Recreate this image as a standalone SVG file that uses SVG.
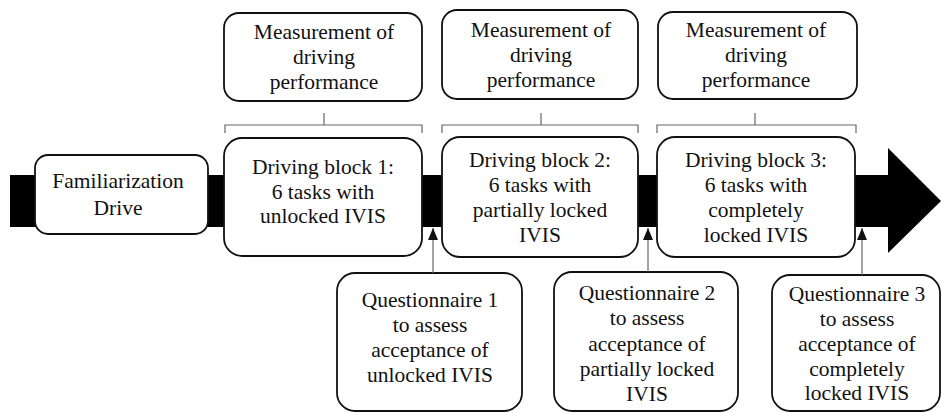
<svg xmlns="http://www.w3.org/2000/svg" width="942" height="413" viewBox="0 0 942 413" font-family="Liberation Serif, Times New Roman, serif">
  <defs>
    <marker id="tri" viewBox="0 0 12 10" refX="12" refY="5" markerWidth="12" markerHeight="10" markerUnits="userSpaceOnUse" orient="auto">
      <path d="M0,0 L12,5 L0,10 Z" fill="#111"/>
    </marker>
  </defs>
  <style>
    .box { fill: #fff; stroke: #111; stroke-width: 1.8; }
    text { font-family: "Liberation Serif", "Times New Roman", Times, serif; font-size: 21.5px; fill: #111; text-anchor: middle; }
    .br { fill: none; stroke: #666; stroke-width: 1.2; }
    .con { fill: none; stroke: #666; stroke-width: 1.2; }
  </style>

  <rect width="942" height="413" fill="#fff"/>

  <!-- timeline arrow -->
  <g id="timeline">
    <rect x="10" y="175" width="880" height="52" fill="#000"/>
    <polygon points="888,148 941,201 888,253" fill="#000"/>
  </g>

  <!-- brackets linking measurements to driving blocks -->
  <g id="brackets">
    <path class="br" d="M225,133 V125 H422 V133 M324,125 V113"/>
    <path class="br" d="M442,133 V125 H638 V133 M541,125 V113"/>
    <path class="br" d="M657,133 V125 H856 V133 M755,125 V113"/>
  </g>

  <g id="familiarization">
    <rect class="box" x="35" y="155" width="173" height="79" rx="13"/>
    <text x="118" y="188">Familiarization</text>
    <text x="118" y="215">Drive</text>
  </g>

  <g id="block1">
    <rect class="box" x="224" y="138" width="198" height="118" rx="18"/>
    <text x="323" y="174">Driving block 1:</text>
    <text x="323" y="198.5">6 tasks with</text>
    <text x="323" y="223">unlocked IVIS</text>
  </g>

  <g id="block2">
    <rect class="box" x="442" y="137" width="196" height="120" rx="18"/>
    <text x="540" y="167">Driving block 2:</text>
    <text x="540" y="192">6 tasks with</text>
    <text x="540" y="217">partially locked</text>
    <text x="540" y="242">IVIS</text>
  </g>

  <g id="block3">
    <rect class="box" x="657" y="137" width="198" height="120" rx="18"/>
    <text x="756" y="167">Driving block 3:</text>
    <text x="756" y="192">6 tasks with</text>
    <text x="756" y="217">completely</text>
    <text x="756" y="242">locked IVIS</text>
  </g>

  <g id="measure1">
    <rect class="box" x="224" y="13" width="198" height="88" rx="15"/>
    <text x="324" y="39">Measurement of</text>
    <text x="324" y="64">driving</text>
    <text x="324" y="89">performance</text>
  </g>

  <g id="measure2">
    <rect class="box" x="442" y="10" width="196" height="89" rx="15"/>
    <text x="541" y="37">Measurement of</text>
    <text x="541" y="62">driving</text>
    <text x="541" y="87">performance</text>
  </g>

  <g id="measure3">
    <rect class="box" x="658" y="12" width="199" height="87" rx="15"/>
    <text x="756" y="37">Measurement of</text>
    <text x="756" y="62">driving</text>
    <text x="756" y="87">performance</text>
  </g>

  <g id="quest1">
    <rect class="box" x="337" y="273" width="185" height="138" rx="18"/>
    <text x="430" y="307">Questionnaire 1</text>
    <text x="430" y="332">to assess</text>
    <text x="430" y="357">acceptance of</text>
    <text x="430" y="382">unlocked IVIS</text>
  </g>

  <g id="quest2">
    <rect class="box" x="554" y="272" width="184" height="139" rx="18"/>
    <text x="647" y="300">Questionnaire 2</text>
    <text x="647" y="325">to assess</text>
    <text x="647" y="351">acceptance of</text>
    <text x="647" y="376">partially locked</text>
    <text x="647" y="401">IVIS</text>
  </g>

  <g id="quest3">
    <rect class="box" x="772" y="275" width="168" height="136" rx="18"/>
    <text x="857" y="301">Questionnaire 3</text>
    <text x="857" y="326">to assess</text>
    <text x="857" y="351">acceptance of</text>
    <text x="857" y="376">completely</text>
    <text x="857" y="400">locked IVIS</text>
  </g>

  <!-- questionnaire pointers -->
  <g id="connectors">
    <path class="con" d="M433,273 V228" marker-end="url(#tri)"/>
    <path class="con" d="M648,272 V228" marker-end="url(#tri)"/>
    <path class="con" d="M862,275 V228" marker-end="url(#tri)"/>
  </g>
</svg>
